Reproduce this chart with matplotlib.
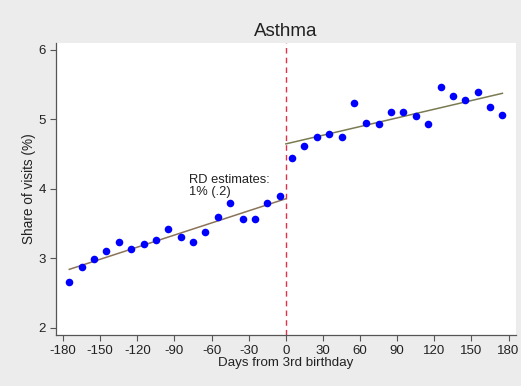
import numpy as np
import matplotlib
matplotlib.use("Agg")
import matplotlib.pyplot as plt

# Binned means (10-day bins) of asthma share of visits around the 3rd birthday
days_before = [-175, -165, -155, -145, -135, -125, -115, -105, -95,
               -85, -75, -65, -55, -45, -35, -25, -15, -5]
share_before = [2.66, 2.87, 2.99, 3.11, 3.24, 3.14, 3.20, 3.26, 3.42,
                3.30, 3.23, 3.38, 3.60, 3.79, 3.57, 3.57, 3.80, 3.89]
days_after = [5, 15, 25, 35, 45, 55, 65, 75, 85,
              95, 105, 115, 125, 135, 145, 155, 165, 175]
share_after = [4.44, 4.61, 4.75, 4.79, 4.75, 5.23, 4.95, 4.93, 5.11,
               5.11, 5.05, 4.94, 5.46, 5.34, 5.28, 5.40, 5.18, 5.07]

x_ticks = [-180, -150, -120, -90, -60, -30, 0, 30, 60, 90, 120, 150, 180]
y_ticks = [2, 3, 4, 5, 6]
title = "Asthma"
x_label = "Days from 3rd birthday"
y_label = "Share of visits (%)"
rd_note = "RD estimates:\n1% (.2)"

plt.rcParams['font.family'] = ['Liberation Sans', 'DejaVu Sans']

fig = plt.figure(figsize=(5.21, 3.86), dpi=100, facecolor="#ececec")
ax = fig.add_axes([55.7 / 521, 1 - 335 / 386, (516 - 55.7) / 521, (335 - 43) / 386])
ax.set_facecolor("white")

# Linear fits on each side of the cutoff
for xs, ys, col in [(days_before, share_before, "#8a7358"),
                    (days_after, share_after, "#7a7a52")]:
    xs = np.asarray(xs, float)
    ys = np.asarray(ys, float)
    b, a = np.polyfit(xs, ys, 1)
    lo = xs.min() if xs.min() < 0 else 0
    hi = 0 if xs.max() < 0 else xs.max()
    xx = np.array([lo, hi])
    ax.plot(xx, a + b * xx, color=col, lw=1.1, zorder=2)

ax.scatter(days_before, share_before, s=30, color="#0000ff", zorder=3, linewidths=0)
ax.scatter(days_after, share_after, s=30, color="#0000ff", zorder=3, linewidths=0)

ax.axvline(0, color="#e0304a", lw=1.0, ls=(0, (4, 3)), zorder=1)

ax.text(-78, 4.21, rd_note, fontsize=9.3, color="#222222", va="top", ha="left",
        linespacing=0.95)

ax.set_xlim(-186, 186)
ax.set_ylim(1.895, 6.1)
ax.set_xticks(x_ticks)
ax.set_xticklabels([str(t) for t in x_ticks])
ax.set_yticks(y_ticks)
ax.set_yticklabels([str(t) for t in y_ticks])

for s in ["top", "right"]:
    ax.spines[s].set_visible(False)
for s in ["left", "bottom"]:
    ax.spines[s].set_color("#555555")
    ax.spines[s].set_linewidth(0.9)
ax.tick_params(axis="both", colors="#555555", labelcolor="#222222",
               labelsize=9.5, length=4, width=0.8, pad=3)

ax.set_xlabel(x_label, fontsize=9.6, color="#222222", labelpad=0)
ax.set_ylabel(y_label, fontsize=9.8, color="#222222", labelpad=2)
fig.text(0.5 * (55.7 + 516) / 521, 1 - 31 / 386, title, fontsize=13.5,
         color="#222222", ha="center", va="center")

fig.savefig("out.png", dpi=100, facecolor=fig.get_facecolor())
